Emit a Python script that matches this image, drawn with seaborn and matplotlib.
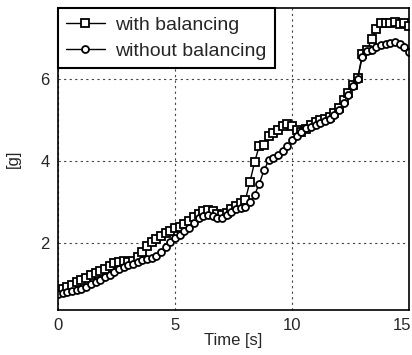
import numpy as np
import pandas as pd
import matplotlib
matplotlib.use("Agg")
import matplotlib.pyplot as plt
import matplotlib.transforms as mtransforms
import seaborn as sns
from matplotlib.ticker import MultipleLocator

# time axis, 0.2 s steps
time_s = [round(0.2 * i, 1) for i in range(76)]

with_balancing = [
    0.85, 0.88, 0.92, 0.98, 1.05, 1.10, 1.15, 1.22, 1.28, 1.33,
    1.38, 1.45, 1.52, 1.55, 1.56, 1.55, 1.57, 1.65, 1.78, 1.92,
    2.02, 2.10, 2.18, 2.24, 2.30, 2.36, 2.40, 2.46, 2.55, 2.64,
    2.72, 2.78, 2.80, 2.78, 2.72, 2.68, 2.74, 2.83, 2.90, 2.98,
    3.05, 3.50, 3.98, 4.38, 4.40, 4.62, 4.68, 4.75, 4.85, 4.90,
    4.85, 4.75, 4.70, 4.78, 4.88, 4.95, 5.00, 5.02, 5.08, 5.18,
    5.30, 5.48, 5.66, 5.86, 6.02, 6.60, 6.70, 6.98, 7.22, 7.38,
    7.38, 7.36, 7.40, 7.35, 7.38, 7.30,
]

without_balancing = [
    0.75, 0.78, 0.80, 0.82, 0.85, 0.88, 0.93, 0.99, 1.05, 1.11,
    1.17, 1.23, 1.30, 1.36, 1.41, 1.46, 1.50, 1.54, 1.58, 1.61,
    1.63, 1.68, 1.78, 1.90, 2.02, 2.12, 2.20, 2.30, 2.38, 2.50,
    2.60, 2.66, 2.68, 2.66, 2.62, 2.62, 2.68, 2.76, 2.82, 2.86,
    2.88, 3.00, 3.18, 3.45, 3.78, 4.02, 4.08, 4.15, 4.25, 4.38,
    4.52, 4.62, 4.72, 4.80, 4.84, 4.88, 4.92, 4.97, 5.03, 5.12,
    5.24, 5.42, 5.62, 5.82, 6.00, 6.55, 6.68, 6.72, 6.78, 6.82,
    6.86, 6.88, 6.90, 6.86, 6.78, 6.65,
]

x_ticks = [0, 5, 10, 15]
y_ticks = [2, 4, 6]

sns.set_style("white")
plt.rcParams['font.family'] = ['Liberation Sans', 'DejaVu Sans']

df = pd.DataFrame({
    'time': time_s,
    'with balancing': with_balancing,
    'without balancing': without_balancing,
})

fig = plt.figure(figsize=(4.12, 3.55), dpi=100)
ax = fig.add_axes([0.141, 0.127, 0.852, 0.850])

sns.lineplot(data=df, x='time', y='with balancing', ax=ax, color='black',
             lw=1.0, marker='s', markersize=6, markerfacecolor='white',
             markeredgecolor='black', markeredgewidth=1.3,
             label='with balancing')
sns.lineplot(data=df, x='time', y='without balancing', ax=ax, color='black',
             lw=1.0, marker='o', markersize=5, markerfacecolor='white',
             markeredgecolor='black', markeredgewidth=1.3,
             label='without balancing')

ax.set_xlim(0, 15)
ax.set_ylim(0.37, 7.73)
ax.set_xticks(x_ticks)
ax.set_yticks(y_ticks)
ax.xaxis.set_minor_locator(MultipleLocator(2.5))
ax.yaxis.set_minor_locator(MultipleLocator(1))
ax.tick_params(which='major', direction='out', length=4, width=1,
               labelsize=12, pad=2)
ax.tick_params(which='minor', direction='out', length=2.5, width=0.8)
ax.grid(True, which='major', linestyle=(0, (2, 3)), color='#444444',
        linewidth=0.8)

# last x label sits just inside the figure edge
last = ax.get_xticklabels()[-1]
last.set_transform(last.get_transform() +
                   mtransforms.ScaledTranslation(-7 / 100, 0, fig.dpi_scale_trans))

for s in ax.spines.values():
    s.set_linewidth(1.2)
    s.set_color('black')

ax.set_xlabel('Time [s]', fontsize=12, labelpad=0)
ax.set_ylabel('[g]', fontsize=12, labelpad=14)

leg = ax.legend(loc='upper left', borderaxespad=0, fontsize=14,
                fancybox=False, framealpha=1, edgecolor='black',
                handlelength=2.0, borderpad=0.4, labelspacing=0.45,
                handletextpad=0.55)
leg.get_frame().set_linewidth(1.5)

fig.savefig('out.png', dpi=100)
